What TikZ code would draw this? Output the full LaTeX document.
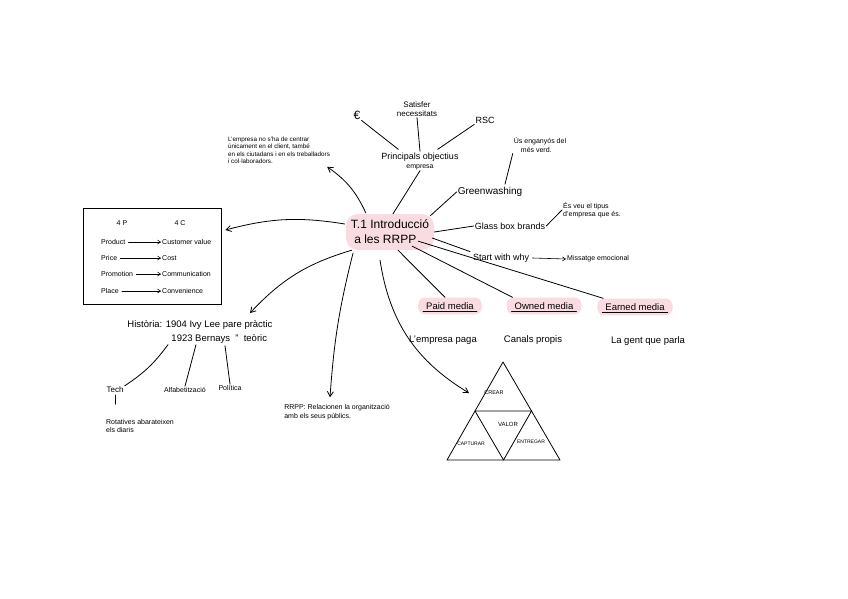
\documentclass[tikz,border=0pt]{standalone}
\usepackage{fontspec}
\setmainfont{Liberation Sans}
\usetikzlibrary{arrows.meta,calc}
\definecolor{pinkbg}{HTML}{F9DCE1}
\tikzset{
  lbl/.style={font=\fontsize{9}{10}\selectfont, inner sep=1pt, align=center},
  tiny/.style={font=\fontsize{6.3}{7.5}\selectfont, inner sep=1pt, align=left},
  small/.style={font=\fontsize{7}{8.5}\selectfont, inner sep=1pt, align=left},
  ln/.style={draw=black, line width=0.8pt, line cap=round},
  arr/.style={ln, -{Straight Barb[length=5pt,width=6pt]}},
  media/.style={lbl, font=\fontsize{9.5}{10}\selectfont, fill=pinkbg, rounded corners=7pt, inner xsep=8pt, inner ysep=5pt},
}
\begin{document}
\begin{tikzpicture}[x=1pt,y=-1pt]
\useasboundingbox (0,0) rectangle (848,599);
\fill[white] (0,0) rectangle (848,599);

% central
\node[fill=pinkbg, rounded corners=12pt, inner xsep=5pt, inner ysep=6pt, align=left, font=\fontsize{12}{15}\selectfont] (c) at (390,232) {T.1 Introducció\\ \ a les RRPP};

% objectives
\node[lbl] (obj) at (420,161) {Principals objectius\\[-1pt]{\fontsize{7}{8}\selectfont empresa}};
\node[lbl, font=\fontsize{12}{12}\selectfont] (eur) at (357,115) {€};
\node[lbl, font=\fontsize{8}{9}\selectfont] (sat) at (417,109) {Satisfer\\ necessitats};
\node[lbl] (rsc) at (485,120) {RSC};
\draw[ln] ($(obj.north west)+(18,-2)$) -- (eur.south east);
\draw[ln] (sat.south) -- (obj.north);
\draw[ln] ($(obj.north east)+(-22,-2)$) -- (rsc.south west);
\draw[ln] ($(c.north)+(3,0)$) -- (obj.south);

% note top-left
\node[tiny] (note) at (279,150) {L'empresa no s'ha de centrar\\ únicament en el client, també\\ en els ciutadans i en els treballadors\\ i col·laboradors.};
\draw[arr] ($(c.north west)+(20,-1)$) to[bend right=15] ($(note.south east)+(-4,2)$);

% greenwashing
\node[lbl, font=\fontsize{10}{11}\selectfont] (green) at (490,192) {Greenwashing};
\node[small] (verd) at (540,145) {Ús enganyós del\\ \quad més verd.};
\draw[ln] ($(c.north east)+(-4,2)$) -- (green.west);
\draw[ln] ($(green.north)+(15,-2)$) -- (verd.south west);

% glass box
\node[lbl] (glass) at (510,226) {Glass box brands};
\node[small] (tipus) at (592,210) {És veu el tipus\\ d'empresa que és.};
\draw[ln] (c.east) -- (glass.west);
\draw[ln] (glass.east) -- (tipus.west);

% start with why
\node[lbl, anchor=west] (why) at (472,258) {Start with why};
\node[small, anchor=west] (emo) at (566,259) {Missatge emocional};
\draw[ln] ($(c.east)+(-2,6)$) -- ($(why.north west)+(-2,-1)$);
\draw[ln, line width=0.6pt, -{Straight Barb[length=3pt,width=4pt]}] ($(why.east)+(2,0)$) -- (emo.west);

% 4P 4C box
\node[draw, line width=0.8pt, minimum width=138pt, minimum height=96pt] (box) at (152,256) {};
\node[small] (p4) at (122,223) {4 P};
\node[small] (c4) at (180,223) {4 C};
\node[small, anchor=west] (p1) at (100,242) {Product};
\node[small, anchor=west] (p2) at (100,258) {Price};
\node[small, anchor=west] (p3) at (100,274) {Promotion};
\node[small, anchor=west] (p4b) at (100,291) {Place};
\node[small, anchor=west] (c1) at (161,242) {Customer value};
\node[small, anchor=west] (c2) at (161,258) {Cost};
\node[small, anchor=west] (c3) at (161,274) {Communication};
\node[small, anchor=west] (c4b) at (161,291) {Convenience};
\foreach \a/\b in {p1/c1,p2/c2,p3/c3,p4b/c4b}
  \draw[ln, line width=0.6pt, -{Straight Barb[length=3pt,width=4pt]}] ($(\a.east)+(2,0)$) -- (\b.west);
\draw[arr] ($(c.west)+(-1,-8)$) to[bend right=12] ($(box.east)+(4,-26)$);

% historia
\node[lbl, align=left, font=\fontsize{9.5}{14}\selectfont] (hist) at (200,332) {Història: 1904 Ivy Lee pare pràctic\\ \hspace{44pt}1923 Bernays \ " \ teòric};
\coordinate (histtip) at (250,313);
\draw[arr] ($(c.south west)+(6,0)$) to[bend right=15] (histtip);
\node[lbl, font=\fontsize{8}{9}\selectfont] (tech) at (115,390) {Tech};
\node[lbl, font=\fontsize{7}{8}\selectfont] (alf) at (185,390) {Alfabetització};
\node[lbl, font=\fontsize{7}{8}\selectfont] (pol) at (230,388) {Política};
\node[small] (rot) at (140,426) {Rotatives abarateixen\\ els diaris};
\draw[ln] ($(hist.south)+(-32,0)$) to[bend left=10] (tech.north east);
\draw[ln] ($(hist.south)+(-4,0)$) -- (alf.north);
\draw[ln] ($(hist.south)+(25,1)$) -- (pol.north);
\coordinate (techend) at ($(tech.south)+(0,10)$);
\draw[ln] ($(tech.south)+(0,1)$) -- (techend);

% RRPP
\node[small] (rrpp) at (337,412) {RRPP: Relacionen la organització\\ amb els seus públics.};
\draw[arr] ($(c.south)+(-37,3)$) to[bend right=5] ($(rrpp.north)+(-7,-6)$);

% media
\node[media] (paid) at (450,306) {Paid media};
\node[media] (owned) at (544,306) {Owned media};
\node[media] (earned) at (635,307) {Earned media};
\foreach \m in {paid,owned,earned}
  \draw[ln] ($(\m.south west)+(5,-3)$) -- ($(\m.south east)+(-5,-3)$);
\draw[ln] ($(c.south)+(8,0)$) -- ($(paid.north)+(-5,0)$);
\draw[ln] ($(c.south east)+(-22,-4)$) -- ($(owned.north west)+(6,0)$);
\draw[ln] ($(c.south east)+(-16,-9)$) -- ($(earned.north west)+(6,0)$);
\node[lbl, font=\fontsize{9.5}{10}\selectfont] (pa) at (443,340) {L'empresa paga};
\node[lbl, font=\fontsize{9.5}{10}\selectfont] (ow) at (533,340) {Canals propis};
\node[lbl, font=\fontsize{9.5}{10}\selectfont] (ea) at (648,341) {La gent que parla};

% triangle
\coordinate (ta) at (503,362);
\coordinate (tl) at (447,460);
\coordinate (tr) at (560,460);
\coordinate (ml) at (475,411);
\coordinate (mr) at (531.5,411);
\coordinate (mb) at (503.5,460);
\draw[ln, line join=round] (ta) -- (tl) -- (tr) -- cycle;
\draw[ln, line join=round] (ml) -- (mr) -- (mb) -- cycle;
\node[font=\fontsize{5.5}{6}\selectfont] (crear) at (494,393) {CREAR};
\node[font=\fontsize{6}{7}\selectfont] (valor) at (508,424) {VALOR};
\node[font=\fontsize{5}{6}\selectfont] (capt) at (471,444) {CAPTURAR};
\node[font=\fontsize{5}{6}\selectfont] (entr) at (531,442) {ENTREGAR};
\draw[arr] ($(c.south)+(-10,10)$) to[bend right=25] ($(ml)+(-6,-18)$);
\end{tikzpicture}
\end{document}
